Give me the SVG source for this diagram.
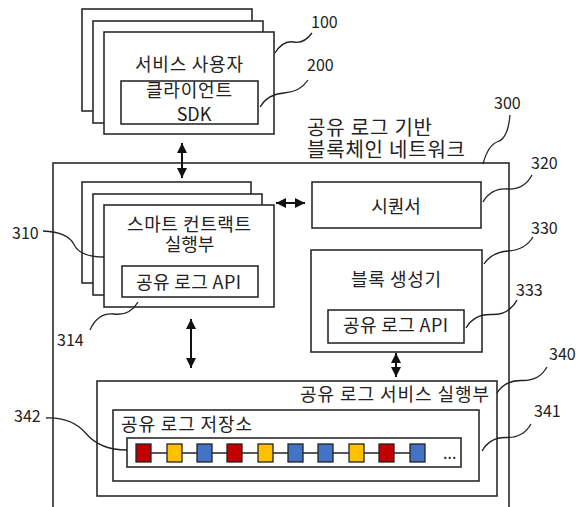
<svg xmlns="http://www.w3.org/2000/svg" width="576" height="507" viewBox="0 0 576 507">
<defs>
<marker id="ah" viewBox="0 0 10 10" refX="10" refY="5" markerWidth="10" markerHeight="10" markerUnits="userSpaceOnUse" orient="auto-start-reverse">
<path d="M0,0 L10,5 L0,10 z" fill="#111"/>
</marker>
<style>
.box{fill:#fff;stroke:#2b2b2b;stroke-width:1.6}
.t{font-family:"Noto Sans CJK KR","Noto Sans",sans-serif;font-size:18px;fill:#222}
.tt{font-family:"Noto Sans CJK KR","Noto Sans",sans-serif;font-size:20px;fill:#222}
.n{font-family:"Noto Sans CJK KR","Noto Sans",sans-serif;font-size:16px;fill:#222}
.ld{fill:none;stroke:#222;stroke-width:1.3}
.ar{fill:none;stroke:#111;stroke-width:2;marker-start:url(#ah);marker-end:url(#ah)}
.sq{stroke:#222;stroke-width:1.3}
</style>
</defs>
<rect width="576" height="507" fill="#fff"/>

<g id="n300">
<rect class="box" x="53" y="163" width="456" height="350"/>
<text class="tt"><tspan x="307" y="135" textLength="125" lengthAdjust="spacing">공유 로그 기반</tspan><tspan x="307" y="157" textLength="158" lengthAdjust="spacing">블록체인 네트워크</tspan></text>
<text class="n" x="494" y="109">300</text>
</g>

<g id="n100">
<rect class="box" x="82" y="9" width="170" height="102"/>
<rect class="box" x="93" y="21" width="170" height="102"/>
<rect class="box" x="104" y="32" width="170" height="102"/>
<text class="t" x="135" y="71" textLength="108" lengthAdjust="spacing">서비스 사용자</text>
<text class="n" x="311" y="28">100</text>
</g>

<g id="n200">
<rect class="box" x="121" y="81" width="137" height="43"/>
<text class="t" text-anchor="middle"><tspan x="189" y="97" textLength="86" lengthAdjust="spacing">클라이언트</tspan><tspan x="194" y="121">SDK</tspan></text>
<text class="n" x="307" y="71">200</text>
</g>

<g id="n310">
<rect class="box" x="82" y="182" width="169" height="101"/>
<rect class="box" x="93" y="194" width="169" height="101"/>
<rect class="box" x="104" y="205" width="170" height="102"/>
<text class="t" text-anchor="middle"><tspan x="189" y="231" textLength="124" lengthAdjust="spacing">스마트 컨트랙트</tspan><tspan x="189.5" y="251">실행부</tspan></text>
<text class="n" x="12" y="239">310</text>
</g>

<g id="n314">
<rect class="box" x="122" y="266" width="136" height="31"/>
<text class="t" x="136" y="289" textLength="105" lengthAdjust="spacing">공유 로그 API</text>
<text class="n" x="57" y="346">314</text>
</g>

<g id="n320">
<rect class="box" x="312" y="182" width="169" height="46"/>
<text class="t" x="396" y="213" text-anchor="middle">시퀀서</text>
<text class="n" x="531" y="169">320</text>
</g>

<g id="n330">
<rect class="box" x="311" y="250" width="171" height="102"/>
<text class="t" x="351" y="286" textLength="90" lengthAdjust="spacing">블록 생성기</text>
<text class="n" x="531" y="234">330</text>
</g>

<g id="n333">
<rect class="box" x="328" y="310" width="136" height="33"/>
<text class="t" x="343" y="332" textLength="105" lengthAdjust="spacing">공유 로그 API</text>
<text class="n" x="516" y="296">333</text>
</g>

<g id="n340">
<rect class="box" x="97" y="381" width="400" height="115"/>
<text class="t" x="300" y="401" textLength="189" lengthAdjust="spacing">공유 로그 서비스 실행부</text>
<text class="n" x="549" y="360">340</text>
</g>

<g id="n342">
<rect class="box" x="113" y="410" width="366" height="71"/>
<text class="t" x="121" y="431" textLength="131" lengthAdjust="spacing">공유 로그 저장소</text>
<text class="n" x="14" y="422">342</text>
</g>

<g id="n341">
<rect class="box" x="127" y="438" width="334" height="29"/>
<line x1="151" y1="453" x2="410" y2="453" stroke="#222" stroke-width="1.3"/>
<rect class="sq" x="136" y="444" width="15" height="18" fill="#c00000"/>
<rect class="sq" x="167" y="444" width="15" height="18" fill="#ffc000"/>
<rect class="sq" x="197" y="444" width="15" height="18" fill="#4472c4"/>
<rect class="sq" x="227" y="444" width="15" height="18" fill="#c00000"/>
<rect class="sq" x="258" y="444" width="15" height="18" fill="#ffc000"/>
<rect class="sq" x="288" y="444" width="15" height="18" fill="#4472c4"/>
<rect class="sq" x="318" y="444" width="15" height="18" fill="#4472c4"/>
<rect class="sq" x="349" y="444" width="15" height="18" fill="#ffc000"/>
<rect class="sq" x="379" y="444" width="15" height="18" fill="#c00000"/>
<rect class="sq" x="410" y="444" width="15" height="18" fill="#4472c4"/>
<text class="n" x="443" y="459" font-size="12">...</text>
<text class="n" x="534" y="417">341</text>
</g>

<g id="connectors">
<line class="ar" x1="182" y1="143" x2="182" y2="178"/>
<line class="ar" x1="276" y1="203" x2="305" y2="203"/>
<line class="ar" x1="191" y1="319" x2="191" y2="368"/>
<line class="ar" x1="396" y1="353" x2="396" y2="377"/>
<path class="ld" d="M275,53 Q283,40 293.5,42 T312,33"/>
<path class="ld" d="M260,107 Q268,94 284,93 T308,80"/>
<path class="ld" d="M483,164 Q488,145 498,141.5 T510,115"/>
<path class="ld" d="M483,202 Q491,188 507.5,189 T532,175"/>
<path class="ld" d="M484,264 Q492,252 508.5,251 T533,237"/>
<path class="ld" d="M466,328 Q474,314 491.5,314.5 T517,300"/>
<path class="ld" d="M497,393 Q505,380 522,380.5 T547,367"/>
<path class="ld" d="M482,451 Q490,437 506.5,437.5 T531,424"/>
<path class="ld" d="M43,231 Q68,232 74,244.5 T104,257"/>
<path class="ld" d="M138,302 Q130,316 114,314 T90,330"/>
<path class="ld" d="M46,418 Q72,417 86,433.5 T127,450"/>
</g>
</svg>
